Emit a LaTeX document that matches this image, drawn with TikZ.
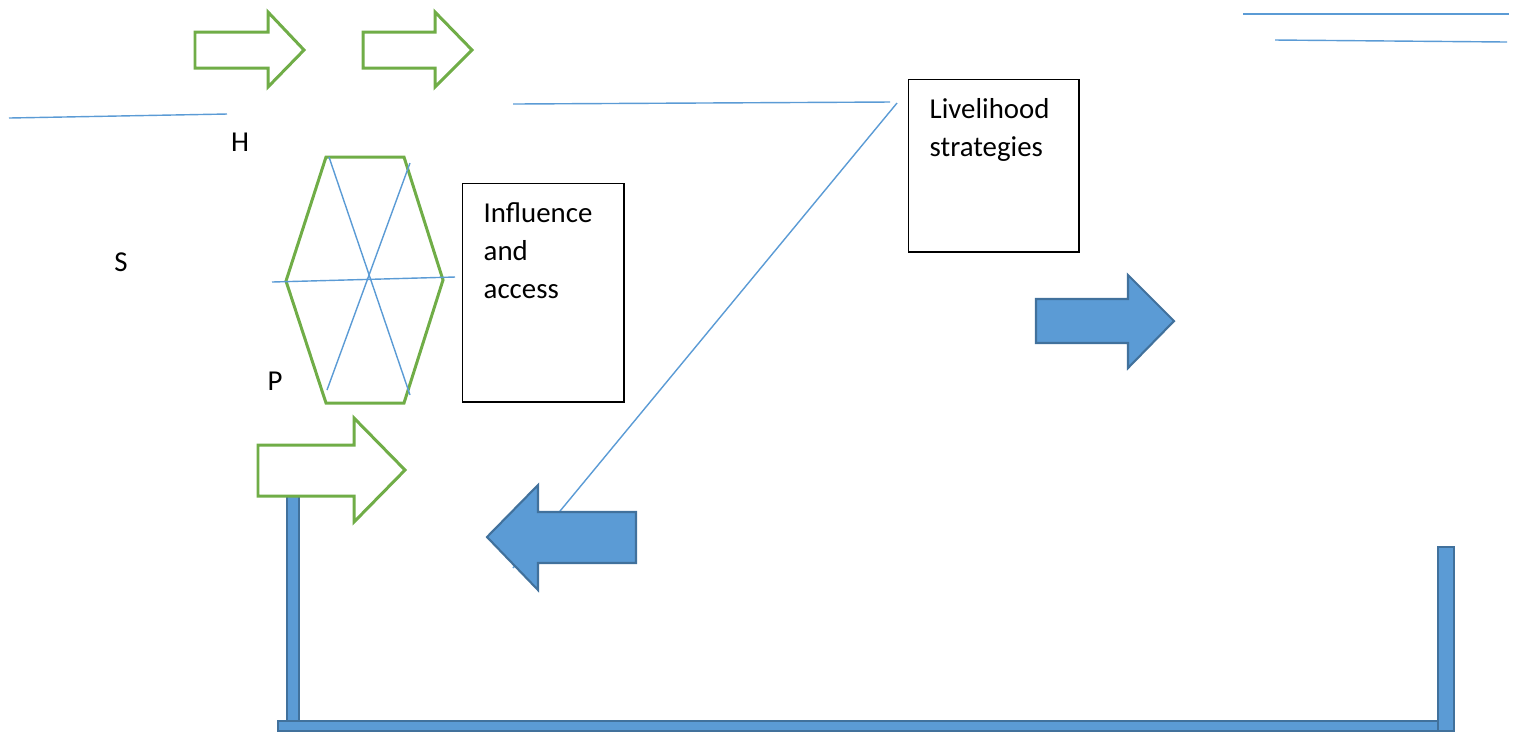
\documentclass[tikz,border=0pt]{standalone}
\usepackage{fontspec}
\setmainfont{Carlito}
\usetikzlibrary{positioning}
\definecolor{grn}{HTML}{70AD47}
\definecolor{blu}{HTML}{5B9BD5}
\definecolor{bludk}{HTML}{41719C}

\begin{document}
\begin{tikzpicture}[x=0.01cm,y=-0.01cm,
  garrow/.style={draw=grn,line width=0.85pt,fill=white},
  barrow/.style={draw=bludk,line width=0.6pt,fill=blu},
  bline/.style={draw=blu,line width=0.4pt},
  box/.style={draw,line width=0.4pt,minimum width=#1},
  lbl/.style={font=\fontsize{8.2}{10.8}\selectfont,align=left,inner sep=0pt}]
\useasboundingbox (0,0) rectangle (1519,732);

% thin lines
\draw[bline] (9,118) -- (227,114);
\draw[bline] (513,104) -- (890,102);
\draw[bline] (1243,14) -- (1509,14);
\draw[bline] (1275,40) -- (1507,42);

% boxes
\node[box=1.61cm,minimum height=2.18cm,anchor=north west] (infl) at (462,183) {};
\node[lbl,anchor=north west] (infltxt) at ([shift={(21,19)}]infl.north west) {Influence\\and\\access};
\node[box=1.70cm,minimum height=1.72cm,anchor=north west] (live) at (908,79) {};
\node[lbl,anchor=north west] (livetxt) at ([shift={(21,19)}]live.north west) {Livelihood\\strategies};

\coordinate (lstart) at (897,103);
\coordinate (lend) at (513,568);
\draw[bline] (lstart) -- (lend);

% letters
\node[lbl] (h) at (240,142) {H};
\node[lbl] (s) at (121,262) {S};
\node[lbl] (p) at (275,381) {P};

% hexagon
\draw[draw=grn,line width=0.85pt] (326,157) -- (404,157) -- (443,280) -- (404,403)
  -- (326,403) -- (286,281) -- cycle;
\draw[bline] (272,282) -- (455,277);
\draw[bline] (329,157) -- (410,395);
\draw[bline] (410,163) -- (327,390);

% green arrows
\draw[garrow] (195,32) -- (268,32) -- (268,12) -- (304,50) -- (268,87) -- (268,68) -- (195,68) -- cycle;
\draw[garrow] (363,32) -- (435,32) -- (435,12) -- (472,50) -- (435,87) -- (435,68) -- (363,68) -- cycle;

% bracket
\draw[barrow] (287,496) rectangle (299,722);
\draw[barrow] (278,721) rectangle (1440,731);
\draw[barrow] (1438,547) rectangle (1454,731);

\draw[garrow] (258,445) -- (354,445) -- (354,418) -- (405,470) -- (354,522) -- (354,496) -- (258,496) -- cycle;

% blue arrows
\draw[barrow] (636,512) -- (538,512) -- (538,485) -- (487,537) -- (538,590) -- (538,563) -- (636,563) -- cycle;
\draw[barrow] (1036,299) -- (1128,299) -- (1128,275) -- (1174,321) -- (1128,368) -- (1128,343) -- (1036,343) -- cycle;
\end{tikzpicture}
\end{document}
